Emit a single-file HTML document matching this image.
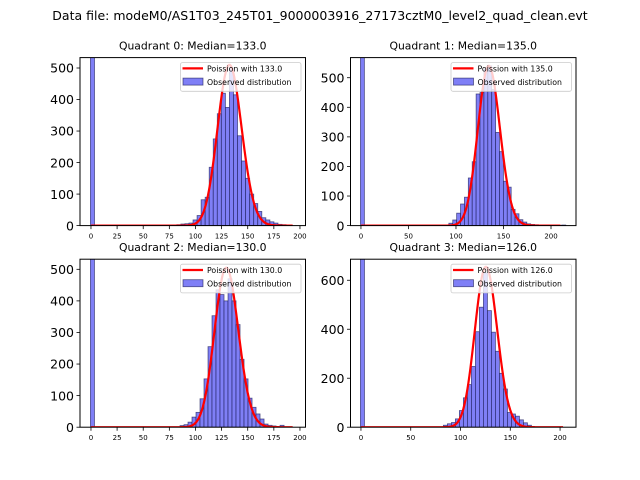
<!DOCTYPE html>
<html><head><meta charset="utf-8"><style>
html,body{margin:0;padding:0;background:#fff;}
svg{display:block;font-family:"DejaVu Sans","Liberation Sans",sans-serif;}
</style></head><body>
<svg id="fig" width="640" height="480" viewBox="0 0 640 480" xmlns="http://www.w3.org/2000/svg">
<rect x="0" y="0" width="640" height="480" fill="#fff"/>
<text x="320" y="20" text-anchor="middle" font-size="12.5">Data file: modeM0/AS1T03_245T01_9000003916_27173cztM0_level2_quad_clean.evt</text>
</svg>
<script>
const titles = ["Quadrant 0: Median=133.0","Quadrant 1: Median=135.0","Quadrant 2: Median=130.0","Quadrant 3: Median=126.0"];
const mus = [133.0, 135.0, 130.0, 126.0];
const curvePeaks = [510, 540, 505, 655];
const curveMax = [193, 210, 193, 203];
const xlims = [[-10.5,205.3],[-11,226.3],[-10.5,205.3],[-10.5,216]];
const ylims = [[0,533],[0,568],[0,532],[0,686]];
const xticks = [[0,25,50,75,100,125,150,175,200],[0,50,100,150,200],[0,25,50,75,100,125,150,175,200],[0,50,100,150,200]];
const yticks = [[0,100,200,300,400,500],[0,100,200,300,400,500],[0,100,200,300,400,500],[0,200,400,600]];
const zeroCounts = [5000, 5000, 5000, 5000];
const binStarts = [82.2, 92.5, 85.2, 82.8];
const binWidths = [3.87, 4.1, 3.83, 4.02];
const counts0 = [3,5,6,8,18,32,82,90,185,275,355,420,375,500,415,285,205,150,100,70,45,25,18,12,8,4,3,2];
const counts1 = [8,19,42,73,96,161,216,445,450,530,540,460,315,250,150,130,55,40,20,12,6,4,3,2,1,1,1,1,1,2];
const counts2 = [5,8,16,32,47,90,153,255,353,435,420,400,470,400,325,215,153,92,63,42,26,10,6,4,2,6];
const counts3 = [8,14,19,34,68,120,174,248,390,490,630,476,388,310,220,156,60,54,45,30,18,8];
const allCounts = [counts0, counts1, counts2, counts3];

const boxes = [{l:80,t:57.6,w:225.5,h:168},{l:350.5,t:57.6,w:225.5,h:168},{l:80,t:259.2,w:225.5,h:168},{l:350.5,t:259.2,w:225.5,h:168}];
const NS = "http://www.w3.org/2000/svg";
const svg = document.getElementById("fig");
function mk(tag, attrs, parent){ const e=document.createElementNS(NS,tag); for(const k in attrs) e.setAttribute(k,attrs[k]); (parent||svg).appendChild(e); return e; }
function logFact(n){ let s=0; for(let i=2;i<=n;i++) s+=Math.log(i); return s; }
function pmf(k,mu){ return Math.exp(k*Math.log(mu)-mu-logFact(k)); }

boxes.forEach((b,p)=>{
  const g = mk("g",{});
  
  
  const xs = v => b.l + (v - xlims[p][0])/(xlims[p][1]-xlims[p][0])*b.w;
  const ys = v => b.t + b.h - (v - ylims[p][0])/(ylims[p][1]-ylims[p][0])*b.h;
  const clipId = "clip"+p;
  const cp = mk("clipPath",{id:clipId},g);
  mk("rect",{x:b.l,y:b.t,width:b.w,height:b.h},cp);
  const plot = mk("g",{"clip-path":"url(#"+clipId+")"},g);
  const bw = binWidths[p];
  const zb = mk("rect",{x:xs(-0.5),y:ys(zeroCounts[p]),width:xs(-0.5+bw)-xs(-0.5),height:ys(0)-ys(zeroCounts[p]),fill:"#7f7ff6",stroke:"#1d1d5a","stroke-width":0.8,"stroke-opacity":0.7},plot);
  
  
  allCounts[p].forEach((c,i)=>{
    const x0 = binStarts[p] + i*bw;
    const r = mk("rect",{x:xs(x0),y:ys(c),width:xs(x0+bw)-xs(x0),height:ys(0)-ys(c),fill:"#7f7ff6",stroke:"#1d1d5a","stroke-width":0.8,"stroke-opacity":0.7},plot);
    
    
  });
  const mode = Math.floor(mus[p]);
  const scale = curvePeaks[p]/pmf(mode,mus[p]);
  let d="";
  for(let k=0;k<=curveMax[p];k++){ d += (k?"L":"M")+xs(k).toFixed(2)+","+ys(scale*pmf(k,mus[p])).toFixed(2); }
  const line = mk("path",{d:d,fill:"none",stroke:"#ff0000","stroke-width":2.2,"stroke-linejoin":"round"},plot);
  
  
  const fr = mk("rect",{x:b.l,y:b.t,width:b.w,height:b.h,fill:"none",stroke:"#000","stroke-width":1},g);
  
  
  xticks[p].forEach(v=>{
    const x = xs(v);
    mk("line",{x1:x,x2:x,y1:b.t+b.h,y2:b.t+b.h+3.5,stroke:"#000","stroke-width":0.8},g);
    const t = mk("text",{x:x,y:b.t+b.h+13,"text-anchor":"middle","font-size":7,fill:"#000"},g);
    t.textContent = v;
    
    
  });
  yticks[p].forEach(v=>{
    const y = ys(v);
    mk("line",{x1:b.l-3.5,x2:b.l,y1:y,y2:y,stroke:"#000","stroke-width":0.8},g);
    const t = mk("text",{x:b.l-6,y:y+4.7,"text-anchor":"end","font-size":12.5,fill:"#000"},g);
    t.textContent = v;
    
    
  });
  const tt = mk("text",{x:b.l+b.w/2,y:b.t-8,"text-anchor":"middle","font-size":10.8,fill:"#000"},g);
  tt.textContent = titles[p];
  
  
  const lg = mk("g",{},g);
  
  
  const lw = 120.5, lx = b.l+b.w-4.5-lw, ly = b.t+5;
  mk("rect",{x:lx,y:ly,width:lw,height:28.7,rx:2,fill:"#fff","fill-opacity":0.8,stroke:"#ccc","stroke-width":0.8},lg);
  mk("line",{x1:lx+2,x2:lx+22.5,y1:ly+5.8,y2:ly+5.8,stroke:"#ff0000","stroke-width":2.2},lg);
  const t1 = mk("text",{x:lx+26.5,y:ly+8.8,"font-size":7.8,fill:"#000"},lg);
  t1.textContent = "Poission with "+mus[p].toFixed(1);
  
  
  mk("rect",{x:lx+2.5,y:ly+15.5,width:20,height:7,fill:"#7f7ff6",stroke:"#1d1d5a","stroke-width":0.8,"stroke-opacity":0.7},lg);
  const t2 = mk("text",{x:lx+26.5,y:ly+22.3,"font-size":7.8,fill:"#000"},lg);
  t2.textContent = "Observed distribution";
  
  
});
</script>
</body></html>
